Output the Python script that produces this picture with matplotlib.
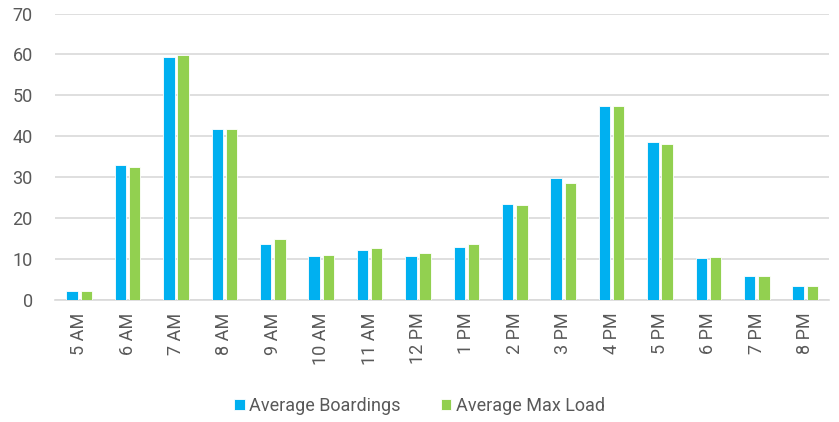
import numpy as np
import matplotlib
matplotlib.use("Agg")
from matplotlib import pyplot as plt

# ----------- data -----------
hours = ["5 AM", "6 AM", "7 AM", "8 AM", "9 AM", "10 AM", "11 AM", "12 PM",
         "1 PM", "2 PM", "3 PM", "4 PM", "5 PM", "6 PM", "7 PM", "8 PM"]
avg_boardings = [2.1, 33.0, 59.3, 41.7, 13.8, 10.8, 12.2, 10.8,
                 13.0, 23.4, 29.9, 47.5, 38.6, 10.3, 5.8, 3.5]
avg_max_load = [2.1, 32.4, 59.9, 41.9, 15.0, 11.1, 12.8, 11.4,
                13.6, 23.1, 28.7, 47.3, 38.0, 10.5, 5.8, 3.5]
# -------- end of data -----

plt.rcParams["font.family"] = ["Liberation Sans Narrow", "Roboto", "DejaVu Sans"]
txt = "#595959"

fig = plt.figure(figsize=(8.39, 4.22), dpi=100)
ax = fig.add_axes([0.0656, 0.289, 0.923, 0.679])

x = np.arange(len(hours))
w = 0.235
ax.bar(x - w / 2 - 0.03, avg_boardings, w, color="#00B0F0", edgecolor="white",
       linewidth=0.6, label="Average Boardings", zorder=3)
ax.bar(x + w / 2 + 0.03, avg_max_load, w, color="#92D050", edgecolor="white",
       linewidth=0.6, label="Average Max Load", zorder=3)

ax.set_xlim(-0.5, len(hours) - 0.5)
ax.set_ylim(0, 70)
ax.set_yticks(range(0, 71, 10))
ax.set_xticks(x)
ax.set_xticklabels(hours, rotation=90)
ax.tick_params(axis="both", length=0, colors=txt, labelsize=13)
ax.tick_params(axis="x", pad=9)
ax.tick_params(axis="y", pad=16)
ax.grid(axis="y", color="#d9d9d9", linewidth=1.2, zorder=0)
for s in ["top", "right", "left"]:
    ax.spines[s].set_visible(False)
ax.spines["bottom"].set_color("#d9d9d9")
ax.spines["bottom"].set_linewidth(1.2)

fig.legend(loc="center", bbox_to_anchor=(0.5, 0.038), ncol=2, frameon=False,
           fontsize=13, labelcolor=txt, handlelength=0.6, handleheight=0.6,
           handletextpad=0.25, columnspacing=2.2)

plt.savefig("out.png", dpi=100)
